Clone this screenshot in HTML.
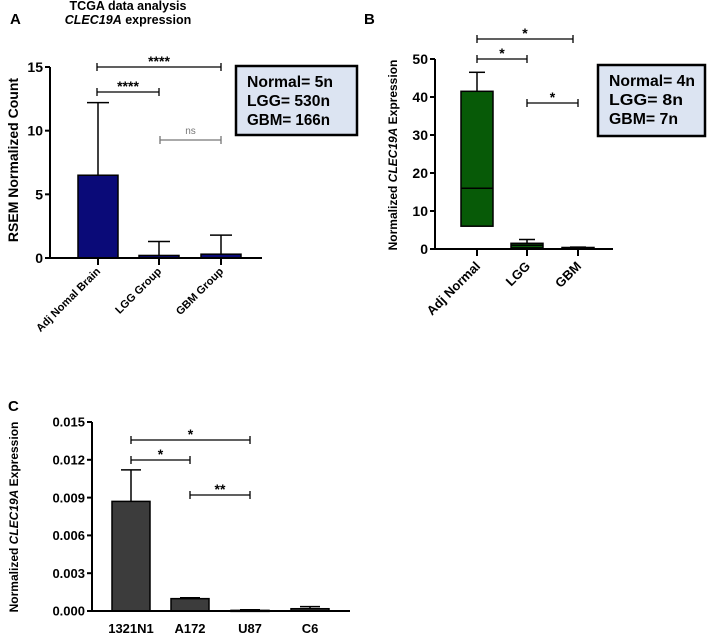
<!DOCTYPE html>
<html><head><meta charset="utf-8"><style>
body{margin:0;background:#fff;}
svg{display:block;font-family:"Liberation Sans",Arial,sans-serif;}
.b{font-weight:bold;}
</style></head><body>
<svg width="710" height="634" viewBox="0 0 710 634">
<g id="A"></g>
<g id="B"></g>
<g id="C"></g>
</svg>
<script>
const NS='http://www.w3.org/2000/svg';
function mk(p,t,a,txt){const e=document.createElementNS(NS,t);for(const k in a)e.setAttribute(k,a[k]);if(txt!==undefined)e.textContent=txt;p.appendChild(e);return e;}

// Panel A data
const aCats=['Adj Nomal Brain','LGG Group','GBM Group'];
const aMeans=[6.5,0.2,0.3];
const aErr=[12.2,1.3,1.8];
const aTicks=[0,5,10,15];
// Panel B data
const bCats=['Adj Normal','LGG','GBM'];
const bQ1=[6,0.3,0.1];
const bMed=[16,1,0.2];
const bQ3=[41.5,1.5,0.4];
const bMax=[46.5,2.5,0.5];
const bTicks=[0,10,20,30,40,50];
// Panel C data
const cCats=['1321N1','A172','U87','C6'];
const cMeans=[0.0087,0.00098,0.00005,0.00018];
const cErr=[0.0112,0.00105,0.0001,0.00035];
const cTicks=[0,0.003,0.006,0.009,0.012,0.015];
const cTickLabels=['0.000','0.003','0.006','0.009','0.012','0.015'];

function axes(g,x0,x1,y0,yTop,ticks,labels,ys,fs){
  let ax=mk(g,'line',{x1:x0,y1:yTop,x2:x0,y2:y0,stroke:'#000','stroke-width':2});
  
  let bx=mk(g,'line',{x1:x0,y1:y0,x2:x1,y2:y0,stroke:'#000','stroke-width':2});
  
  ticks.forEach((t,i)=>{const y=ys(t);
    mk(g,'line',{x1:x0-5,y1:y,x2:x0,y2:y,stroke:'#000','stroke-width':2});
    let l=mk(g,'text',{x:x0-7,y:y+fs*0.36,'text-anchor':'end','font-size':fs,class:'b'},labels[i]);
    
  });
}
function bracket(g,xa,xb,y,txt,col,fs){
  mk(g,'line',{x1:xa,y1:y,x2:xb,y2:y,stroke:col,'stroke-width':1.3});
  mk(g,'line',{x1:xa,y1:y-4,x2:xa,y2:y+4,stroke:col,'stroke-width':1.3});
  mk(g,'line',{x1:xb,y1:y-4,x2:xb,y2:y+4,stroke:col,'stroke-width':1.3});
  let t=mk(g,'text',{x:(xa+xb)/2,y:y-(txt==='ns'?6:1),'text-anchor':'middle','font-size':fs,fill:col,class:txt==='ns'?'':'b'},txt);
  
}
function nbox(g,x,y,w,h,tx,lines,lens){
  let r=mk(g,'rect',{x:x,y:y,width:w,height:h,fill:'#dce4f2',stroke:'#000','stroke-width':2.5});
  
  lines.forEach((s,i)=>mk(g,'text',{x:tx,y:y+21+i*19,'font-size':16,class:'b',textLength:lens[i],lengthAdjust:'spacingAndGlyphs'},s));
}

// ---- Panel A
(function(){
  const g=document.getElementById('A');
  const x0=50,x1=262,y0=258,yT=67;
  const ys=v=>y0-(v/15)*(y0-yT);
  const xc=[98,159,221];
  mk(g,'text',{x:10,y:24,'font-size':15,class:'b'},'A');
  mk(g,'text',{x:128,y:10,'text-anchor':'middle','font-size':12.5,class:'b'},'TCGA data analysis');
  const t2=mk(g,'text',{x:128,y:24,'text-anchor':'middle','font-size':12.5,class:'b'});
  mk(t2,'tspan',{'font-style':'italic'},'CLEC19A');mk(t2,'tspan',{},' expression');
  let yl=mk(g,'text',{transform:'translate(18,160) rotate(-90)','text-anchor':'middle','font-size':14,class:'b'},'RSEM Normalized Count');
  
  aCats.forEach((c,i)=>{
    const x=xc[i];
    mk(g,'line',{x1:x,y1:ys(aErr[i]),x2:x,y2:ys(aMeans[i]),stroke:'#000','stroke-width':1.5});
    mk(g,'line',{x1:x-11,y1:ys(aErr[i]),x2:x+11,y2:ys(aErr[i]),stroke:'#000','stroke-width':1.5});
    let b=mk(g,'rect',{x:x-20,y:ys(aMeans[i]),width:40,height:y0-ys(aMeans[i]),fill:'#0a0a78',stroke:'#000','stroke-width':1.5});
    
    mk(g,'line',{x1:x,y1:y0,x2:x,y2:y0+7,stroke:'#000','stroke-width':2});
    let l=mk(g,'text',{transform:`translate(${x+3},${y0+14}) rotate(-45)`,'text-anchor':'end','font-size':11,class:'b'},c);
    
  });
  axes(g,x0,x1,y0,yT,aTicks,aTicks.map(String),ys,14);
  bracket(g,97,221,67,'****','#000',14);
  bracket(g,97,159,92,'****','#000',14);
  bracket(g,160,221,140,'ns','#777',10);
  nbox(g,236,66,121,69,247,['Normal= 5n','LGG= 530n','GBM= 166n'],[86,83,83]);
})();

// ---- Panel B
(function(){
  const g=document.getElementById('B');
  const x0=435,x1=613,y0=249,yT=59;
  const ys=v=>y0-(v/50)*(y0-yT);
  const xc=[477,527,578];
  mk(g,'text',{x:364,y:24,'font-size':15,class:'b'},'B');
  let yl=mk(g,'text',{transform:'translate(397,155) rotate(-90)','text-anchor':'middle','font-size':12,class:'b'});
  mk(yl,'tspan',{},'Normalized ');mk(yl,'tspan',{'font-style':'italic'},'CLEC19A');mk(yl,'tspan',{},' Expression');
  
  bCats.forEach((c,i)=>{
    const x=xc[i];
    mk(g,'line',{x1:x,y1:ys(bMax[i]),x2:x,y2:ys(bQ3[i]),stroke:'#000','stroke-width':1.5});
    mk(g,'line',{x1:x-8,y1:ys(bMax[i]),x2:x+8,y2:ys(bMax[i]),stroke:'#000','stroke-width':1.5});
    let b=mk(g,'rect',{x:x-16,y:ys(bQ3[i]),width:32,height:Math.max(ys(bQ1[i])-ys(bQ3[i]),1),fill:'#075a07',stroke:'#000','stroke-width':1.5});
    
    mk(g,'line',{x1:x-16,y1:ys(bMed[i]),x2:x+16,y2:ys(bMed[i]),stroke:'#000','stroke-width':1.5});
    mk(g,'line',{x1:x,y1:y0,x2:x,y2:y0+7,stroke:'#000','stroke-width':2});
    let l=mk(g,'text',{transform:`translate(${x+4},${y0+18}) rotate(-45)`,'text-anchor':'end','font-size':13,class:'b'},c);
    
  });
  axes(g,x0,x1,y0,yT,bTicks,bTicks.map(String),ys,14);
  bracket(g,477,573,39,'*','#000',14);
  bracket(g,477,527,59,'*','#000',14);
  bracket(g,527,578,103,'*','#000',14);
  nbox(g,598,65,107,71,609,['Normal= 4n','LGG= 8n','GBM= 7n'],[86,74,69]);
})();

// ---- Panel C
(function(){
  const g=document.getElementById('C');
  const x0=92,x1=350,y0=611,yT=422;
  const ys=v=>y0-(v/0.015)*(y0-yT);
  const xc=[131,190,250,310];
  mk(g,'text',{x:8,y:411,'font-size':15,class:'b'},'C');
  let yl=mk(g,'text',{transform:'translate(18,517) rotate(-90)','text-anchor':'middle','font-size':12,class:'b'});
  mk(yl,'tspan',{},'Normalized ');mk(yl,'tspan',{'font-style':'italic'},'CLEC19A');mk(yl,'tspan',{},' Expression');
  
  cCats.forEach((c,i)=>{
    const x=xc[i];
    mk(g,'line',{x1:x,y1:ys(cErr[i]),x2:x,y2:ys(cMeans[i]),stroke:'#000','stroke-width':1.5});
    mk(g,'line',{x1:x-10,y1:ys(cErr[i]),x2:x+10,y2:ys(cErr[i]),stroke:'#000','stroke-width':1.5});
    let b=mk(g,'rect',{x:x-19,y:ys(cMeans[i]),width:38,height:Math.max(y0-ys(cMeans[i]),1),fill:'#3c3c3c',stroke:'#000','stroke-width':1.5});
    
    let l=mk(g,'text',{x:x,y:633,'text-anchor':'middle','font-size':13,class:'b'},c);
    
  });
  axes(g,x0,x1,y0,yT,cTicks,cTickLabels,ys,13);
  bracket(g,131,250,440,'*','#000',14);
  bracket(g,131,190,460,'*','#000',14);
  bracket(g,190,250,495,'**','#000',14);
})();
</script>
</body></html>
